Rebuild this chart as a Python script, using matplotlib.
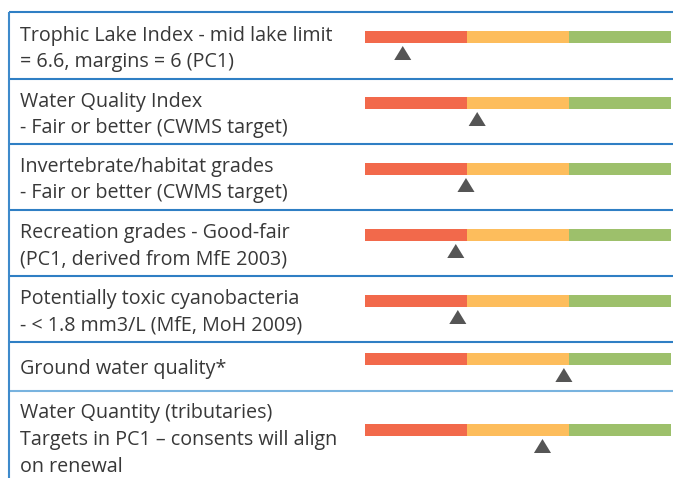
import matplotlib
matplotlib.use("Agg")
import matplotlib.pyplot as plt

# ---- data ----
labels = [
    "Trophic Lake Index - mid lake limit\n= 6.6, margins = 6 (PC1)",
    "Water Quality Index\n- Fair or better (CWMS target)",
    "Invertebrate/habitat grades\n- Fair or better (CWMS target)",
    "Recreation grades - Good-fair\n(PC1, derived from MfE 2003)",
    "Potentially toxic cyanobacteria\n- < 1.8 mm3/L (MfE, MoH 2009)",
    "Ground water quality*",
    "Water Quantity (tributaries)\nTargets in PC1 \u2013 consents will align\non renewal",
]
scores = [0.37, 1.10, 0.99, 0.89, 0.91, 1.95, 1.74]
zones = ["Poor", "Fair", "Good"]
zone_colors = ["#F2694B", "#FDBD5C", "#9DC06B"]

# ---- layout (pixels) ----
W, H = 673, 478
row_lines = [12, 79, 144, 210, 276, 342, 391]
row_line_colors = ["#2F7FC4"] * 6 + ["#78B3DF"]
bar_centers = [37, 103, 169, 235, 301, 359, 430]
tri_offset = 16
text_centers = [49, 115, 180, 246, 312, 369, 440]

plt.rcParams['font.family'] = ['Open Sans', 'DejaVu Sans']
fig = plt.figure(figsize=(W / 100, H / 100), dpi=100)

# base axes in pixel coordinates
ax = fig.add_axes([0, 0, 1, 1])
ax.set_xlim(0, W)
ax.set_ylim(H, 0)
ax.axis("off")

for y, c in zip(row_lines, row_line_colors):
    ax.plot([9, W], [y, y], color=c, lw=1.5, solid_capstyle="butt")
ax.plot([9, 9], [row_lines[0], H], color="#3E8ACB", lw=1.5, solid_capstyle="butt")

for lab, yc in zip(labels, text_centers):
    ax.text(20, yc, lab, fontsize=14.2, color="#383838", va="center", ha="left",
            linespacing=1.45)

# bar axes: x in score units (0..3), y in pixels
bx0, bx1 = 365, 671
bax = fig.add_axes([bx0 / W, 0, (bx1 - bx0) / W, 1])
bax.set_xlim(0, len(zones))
bax.set_ylim(H, 0)
bax.axis("off")
bax.patch.set_alpha(0)

for i, (z, c) in enumerate(zip(zones, zone_colors)):
    bax.barh(bar_centers, [1] * len(bar_centers), left=i, height=12,
             color=c, edgecolor="none")

tri = [(-1, -0.82), (1, -0.82), (0, 0.82)]
bax.scatter(scores, [b + tri_offset for b in bar_centers], marker=tri,
            s=(12.3) ** 2, color="#555555", edgecolors="none", zorder=5,
            clip_on=False)

fig.savefig("out.png", dpi=100)
